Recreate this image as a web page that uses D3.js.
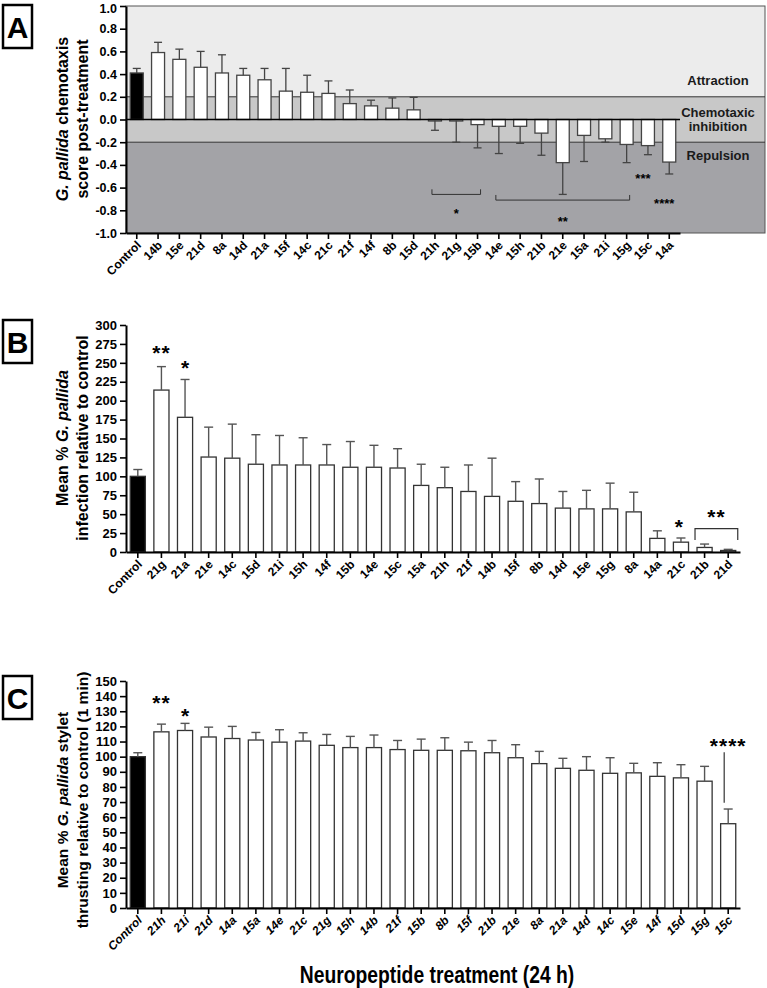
<!DOCTYPE html>
<html lang="en">
  <head>
    <meta charset="UTF-8" />
    <title>Neuropeptide screens</title>
    <style>
      body { margin: 0; background: #fff; }
      text { font-family: "Liberation Sans", Arial, sans-serif; font-weight: bold; }
    </style>
  </head>
  <body>
    <svg id="svg" width="767" height="988"></svg>

    <script src="https://d3js.org/d3.v7.min.js"></script>
    <script>
      // ---- panel A: chemotaxis score
      const catsA = ["Control","14b","15e","21d","8a","14d","21a","15f","14c","21c","21f","14f","8b","15d",
        "21h","21g","15b","14e","15h","21b","21e","15a","21i","15g","15c","14a"];
      const meanA = [0.41,0.59,0.53,0.46,0.41,0.39,0.35,0.25,0.24,0.23,0.14,0.12,0.10,0.085,
        -0.01,-0.01,-0.045,-0.06,-0.06,-0.12,-0.38,-0.14,-0.17,-0.22,-0.23,-0.375];
      const semA = [0.04,0.09,0.09,0.14,0.16,0.06,0.10,0.20,0.15,0.11,0.12,0.05,0.09,0.11,
        0.085,0.19,0.205,0.24,0.15,0.195,0.28,0.23,0.03,0.16,0.08,0.105];
      const ticksA = [-1.0,-0.8,-0.6,-0.4,-0.2,0.0,0.2,0.4,0.6,0.8,1.0];
      const zonesA = [
        { name: ["Attraction"], from: 0.2, to: 1.0, at: 0.34, fill: "#ececec" },
        { name: ["Chemotaxic", "inhibition"], from: -0.2, to: 0.2, at: 0.0, fill: "#c8c8c8" },
        { name: ["Repulsion"], from: -1.0, to: -0.2, at: -0.32, fill: "#a3a3a7" }
      ];

      // ---- panel B: infection
      const catsB = ["Control","21g","21a","21e","14c","15d","21i","15h","14f","15b","14e","15c","15a",
        "21h","21f","14b","15f","8b","14d","15e","15g","8a","14a","21c","21b","21d"];
      const meanB = [100,214,178,125.5,124,116,115,115,115,112,112,111,88,85,80,73.5,67,64,58,57,57,53,18,13,6,2];
      const semB = [9,31,50,39.5,45,39,39,36,27,34,29,25.5,28,27,35,50.5,26,32.5,22,24.5,34,26,10,5.5,4.5,1.5];
      const ticksB = d3.range(0, 301, 25);

      // ---- panel C: stylet thrusting
      const catsC = ["Control","21h","21i","21d","14a","15a","14e","21c","21g","15h","14b","21f","15b",
        "8b","15f","21b","21e","8a","21a","14d","14c","15e","14f","15d","15g","15c"];
      const meanC = [100,116.4,117.3,113,112,111,109.6,110.3,107.5,106,106,104.7,104.2,104.2,103.9,
        102.6,99.3,95.4,92.3,91,89,89.3,87,86,83.8,55.7];
      const semC = [2.6,5.1,4.7,6.5,8,5,8.2,5.5,7.2,7.4,8.3,6,7.4,8.3,5.7,8.1,8.6,8.1,6.6,9,10.3,6.3,9,8.7,9.8,9.7];
      const ticksC = d3.range(0, 151, 10);

      const svg = d3.select("#svg");

      function panelLetter(letter, y) {
        svg.append("rect").attr("x", 3).attr("y", y).attr("width", 29).attr("height", 43)
          .attr("fill", "none").attr("stroke", "#000").attr("stroke-width", 2.5);
        svg.append("text").attr("x", 17.5).attr("y", y + 33).attr("text-anchor", "middle")
          .attr("font-size", 30).text(letter);
      }

      function yTitle(lines, cy, size) {
        const g = svg.append("g").attr("transform", `translate(0,${cy}) rotate(-90)`);
        lines.forEach((parts, i) => {
          const t = g.append("text").attr("x", 0).attr("y", i === 0 ? 68 : 88)
            .attr("text-anchor", "middle").attr("font-size", size);
          parts.forEach(p => t.append("tspan").attr("font-style", p.it ? "italic" : "normal").text(p.t));
        });
      }

      function styleAxis(g) {
        g.select(".domain").attr("stroke", "#000").attr("stroke-width", 2);
        g.selectAll(".tick line").attr("stroke", "#000").attr("stroke-width", 1.6);
      }

      function xLabels(g, x, cats, axisY, italic) {
        g.selectAll("text.xl").data(cats).join("text").attr("class", "xl")
          .attr("transform", d => `translate(${x(d) + x.bandwidth() / 2 + 5},${axisY + 13}) rotate(-45)`)
          .attr("text-anchor", "end").attr("font-size", 12)
          .attr("font-style", italic ? "italic" : "normal").text(d => d);
      }

      function stars(txt, cx, cy, size, spacing) {
        svg.append("text").attr("x", cx).attr("y", cy + size * 0.6)
          .attr("text-anchor", "middle").attr("font-size", size)
          .attr("letter-spacing", spacing).text(txt);
      }

      // ================= A =================
      {
        const x = d3.scaleBand().domain(catsA).range([126, 680]).paddingInner(0.39).paddingOuter(0.2);
        const y = d3.scaleLinear().domain([-1, 1]).range([233, 6]);
        const right = 765;

        const zg = svg.append("g");
        zonesA.forEach(z => {
          zg.append("rect").attr("x", 126).attr("y", y(z.to)).attr("width", right - 126)
            .attr("height", y(z.from) - y(z.to)).attr("fill", z.fill);
          z.name.forEach((n, i) => {
            zg.append("text").attr("x", 718).attr("y", y(z.at) + 4.5 + (i - (z.name.length - 1) / 2) * 14)
              .attr("text-anchor", "middle").attr("font-size", 13).attr("fill", "#1a1a1a").text(n);
          });
        });
        zg.append("rect").attr("x", 126).attr("y", y(1)).attr("width", right - 126).attr("height", y(-1) - y(1))
          .attr("fill", "none").attr("stroke", "#555").attr("stroke-width", 1);
        [0.2, -0.2].forEach(v => zg.append("line").attr("x1", 126).attr("x2", right)
          .attr("y1", y(v)).attr("y2", y(v)).attr("stroke", "#333").attr("stroke-width", 1));

        const bw = x.bandwidth();
        svg.append("g").selectAll("rect").data(catsA).join("rect")
          .attr("x", d => x(d)).attr("width", bw)
          .attr("y", (d, i) => y(Math.max(0, meanA[i])))
          .attr("height", (d, i) => Math.max(1.5, Math.abs(y(meanA[i]) - y(0))))
          .attr("fill", (d, i) => i === 0 ? "#000" : "#fff")
          .attr("stroke", "#444").attr("stroke-width", 1.3);

        const eg = svg.append("g").attr("stroke", "#444").attr("stroke-width", 1.3);
        catsA.forEach((d, i) => {
          const cx = x(d) + bw / 2;
          const m = meanA[i], e = m >= 0 ? m + semA[i] : m - semA[i];
          eg.append("line").attr("x1", cx).attr("x2", cx).attr("y1", y(m)).attr("y2", y(e));
          eg.append("line").attr("x1", cx - 4).attr("x2", cx + 4).attr("y1", y(e)).attr("y2", y(e));
        });

        svg.append("line").attr("x1", 126).attr("x2", 680).attr("y1", y(0)).attr("y2", y(0))
          .attr("stroke", "#000").attr("stroke-width", 1.6);

        const ya = svg.append("g").attr("transform", "translate(126,0)")
          .call(d3.axisLeft(y).tickValues(ticksA).tickFormat(d3.format(".1f")).tickSize(6).tickSizeOuter(0));
        styleAxis(ya);
        ya.selectAll("text").attr("font-size", 12.5).attr("fill", "#000")
          .attr("dy", d => d === 1 ? "0.5em" : "0.32em")
          .text(d => d3.format(".1f")(d).replace("−", "-"));

        const xa = svg.append("g").attr("transform", "translate(0,233)")
          .call(d3.axisBottom(x).tickSize(6).tickSizeOuter(0).tickFormat(""));
        styleAxis(xa);
        xLabels(svg.append("g"), x, catsA, 233, false);

        // significance
        const cxA = c => x(c) + bw / 2;
        const br = svg.append("g").attr("stroke", "#333").attr("stroke-width", 1).attr("fill", "none");
        [["21h", "15b", -0.66, "*", -0.8], ["14e", "15g", -0.71, "**", -0.87]].forEach(([a, b, v, s, tv]) => {
          const x1 = cxA(a) - 3, x2 = cxA(b) + 3;
          br.append("path").attr("d", `M${x1},${y(v + 0.045)}V${y(v)}H${x2}V${y(v + 0.045)}`);
          stars(s, (x1 + x2) / 2, y(tv), 13, 0);
        });
        stars("***", cxA("15c") - 5, y(-0.49), 13, 0);
        stars("****", cxA("14a") - 5, y(-0.71), 13, 0);

        panelLetter("A", 5);
        yTitle([[{ t: "G. ", it: true }, { t: "pallida", it: true }, { t: " chemotaxis" }],
          [{ t: "score post-treatment" }]], 119, 16);
      }

      // ================= B & C =================
      function barPanel(cats, mean, sem, ticks, yDom, yRange, axisY, italic) {
        const x = d3.scaleBand().domain(cats).range([126, 740]).paddingInner(0.36).paddingOuter(0.18);
        const y = d3.scaleLinear().domain(yDom).range(yRange);
        const bw = x.bandwidth();

        svg.append("g").selectAll("rect").data(cats).join("rect")
          .attr("x", d => x(d)).attr("width", bw)
          .attr("y", (d, i) => y(mean[i])).attr("height", (d, i) => y(0) - y(mean[i]))
          .attr("fill", (d, i) => i === 0 ? "#000" : "#fff")
          .attr("stroke", "#333").attr("stroke-width", 1.3);

        const eg = svg.append("g").attr("stroke", "#555").attr("stroke-width", 1.4);
        cats.forEach((d, i) => {
          const cx = x(d) + bw / 2, e = mean[i] + sem[i];
          eg.append("line").attr("x1", cx).attr("x2", cx).attr("y1", y(mean[i])).attr("y2", y(e));
          eg.append("line").attr("x1", cx - 4.5).attr("x2", cx + 4.5).attr("y1", y(e)).attr("y2", y(e));
        });

        const ya = svg.append("g").attr("transform", "translate(126,0)")
          .call(d3.axisLeft(y).tickValues(ticks).tickSize(6).tickSizeOuter(0));
        styleAxis(ya);
        ya.selectAll("text").attr("font-size", 13).attr("fill", "#000");

        const xa = svg.append("g").attr("transform", `translate(0,${axisY})`)
          .call(d3.axisBottom(x).tickSize(6).tickSizeOuter(0).tickFormat(""));
        styleAxis(xa);
        xLabels(svg.append("g"), x, cats, axisY, italic);
        return { x, y, cx: c => x(c) + bw / 2, bw };
      }

      {
        const p = barPanel(catsB, meanB, semB, ticksB, [0, 300], [552, 325], 552, false);
        stars("**", p.cx("21g"), p.y(270), 21, 1);
        stars("*", p.cx("21a"), p.y(250), 21, 0);
        stars("*", p.cx("21c") - 2, p.y(40), 21, 0);
        const x1 = p.x("21b") - 2, x2 = p.x("21d") + p.bw + 2;
        svg.append("path").attr("d", `M${x1},${p.y(16)}V${p.y(31)}H${x2}V${p.y(16)}`)
          .attr("fill", "none").attr("stroke", "#333").attr("stroke-width", 1.2);
        stars("**", (x1 + x2) / 2, p.y(53), 21, 1);

        panelLetter("B", 320);
        yTitle([[{ t: "Mean % " }, { t: "G. pallida", it: true }],
          [{ t: "infection relative to control" }]], 438, 16);
      }

      {
        const p = barPanel(catsC, meanC, semC, ticksC, [0, 150], [908, 681], 908, true);
        stars("**", p.cx("21h"), p.y(139), 21, 1);
        stars("*", p.cx("21i"), p.y(130.5), 21, 0);
        stars("****", p.cx("15c"), p.y(111), 21, 1);
        svg.append("line").attr("x1", p.cx("15c") - 4).attr("x2", p.cx("15c") - 4)
          .attr("y1", p.y(103)).attr("y2", p.y(69.5)).attr("stroke", "#333").attr("stroke-width", 1.2);

        panelLetter("C", 676);
        yTitle([[{ t: "Mean % " }, { t: "G. pallida", it: true }, { t: " stylet" }],
          [{ t: "thrusting relative to control (1 min)" }]], 800, 15.5);
      }

      svg.append("text").attr("transform", "translate(437,983) scale(0.84,1)").attr("text-anchor", "middle")
        .attr("font-size", 23).text("Neuropeptide treatment (24 h)");
    </script>
  </body>
</html>
